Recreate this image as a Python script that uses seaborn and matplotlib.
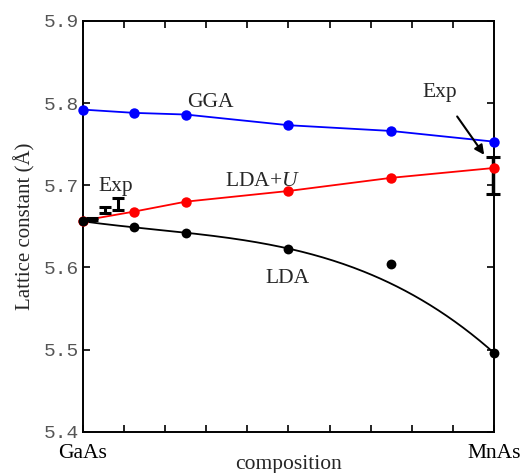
import numpy as np
import pandas as pd
import matplotlib
matplotlib.use('Agg')
import matplotlib.pyplot as plt
import seaborn as sns

# composition (Mn fraction) and lattice constants
comp = [0.0, 0.125, 0.25, 0.5, 0.75, 1.0]
gga = [5.792, 5.788, 5.786, 5.773, 5.766, 5.753]
ldau = [5.657, 5.668, 5.680, 5.693, 5.709, 5.721]
lda = [5.656, 5.649, 5.642, 5.623, 5.604, 5.496]
lda_fit_mask = [True, True, True, True, False, True]  # 0.75 point left out of the fit

# experimental data with error bars
exp_x = [0.022, 0.054, 0.085, 0.997]
exp_y = [5.659, 5.6695, 5.6775, 5.7115]
exp_err = [0.0015, 0.0035, 0.0075, 0.0225]

xtick_pos = [0.0, 0.1, 0.2, 0.3, 0.4, 0.5, 0.6, 0.7, 0.8, 0.9, 1.0]
xtick_lab = ['GaAs', '', '', '', '', '', '', '', '', '', 'MnAs']
ytick_pos = [5.4, 5.5, 5.6, 5.7, 5.8, 5.9]

sns.set_style('ticks')
plt.rcParams['font.family'] = ['Liberation Serif', 'DejaVu Serif']
plt.rcParams['mathtext.fontset'] = 'custom'
plt.rcParams['mathtext.rm'] = 'Liberation Serif'
plt.rcParams['mathtext.it'] = 'Liberation Serif:italic'

df = pd.DataFrame({'x': comp, 'GGA': gga, 'LDA+U': ldau, 'LDA': lda})

fig = plt.figure(figsize=(5.25, 4.73), dpi=100)
ax = fig.add_axes([0.158, 0.087, 0.783, 0.869])

# cubic fit through the LDA points
mask = np.array(lda_fit_mask)
coef = np.polyfit(np.array(comp)[mask], np.array(lda)[mask], 3)
xs = np.linspace(0, 1, 200)
ax.plot(xs, np.polyval(coef, xs), color='black', lw=1.3, zorder=2)

sns.lineplot(data=df, x='x', y='GGA', color='#0000ff', lw=1.3, marker='o',
             markersize=7.5, markeredgewidth=0, ax=ax, zorder=3)
sns.lineplot(data=df, x='x', y='LDA+U', color='#ff0000', lw=1.3, marker='o',
             markersize=7.5, markeredgewidth=0, ax=ax, zorder=3)
sns.scatterplot(data=df, x='x', y='LDA', color='black', s=50, linewidth=0,
                ax=ax, zorder=4)

ax.errorbar(exp_x[:3], exp_y[:3], yerr=exp_err[:3], fmt='none', ecolor='black',
            elinewidth=2.2, capsize=4, capthick=2.2, zorder=5)
ax.errorbar(exp_x[3:], exp_y[3:], yerr=exp_err[3:], fmt='none', ecolor='black',
            elinewidth=2.5, capsize=5, capthick=2.2, zorder=2)

for ln in ax.lines:
    ln.set_clip_on(False)
for coll in ax.collections:
    coll.set_clip_on(False)

fs = 15.5
ax.text(0.309, 5.801, 'GGA', fontsize=fs, ha='center', va='center')
ax.text(0.436, 5.705, 'LDA+$U$', fontsize=fs, ha='center', va='center')
ax.text(0.497, 5.586, 'LDA', fontsize=fs, ha='center', va='center')
ax.text(0.080, 5.699, 'Exp', fontsize=fs, ha='center', va='center')
ax.annotate('Exp', xy=(0.976, 5.737), xytext=(0.869, 5.813),
            fontsize=fs, ha='center', va='center',
            arrowprops=dict(arrowstyle='-|>', color='black', lw=1.5,
                            mutation_scale=14, shrinkA=10, shrinkB=0))

ax.set_xlim(0, 1)
ax.set_ylim(5.4, 5.9)
ax.set_xticks(xtick_pos)
ax.set_xticklabels(xtick_lab, fontsize=15.5)
ax.set_yticks(ytick_pos)
ax.set_yticklabels([f'{v:.1f}' for v in ytick_pos], family='Liberation Mono',
                   fontsize=14, color='#555555')
ax.tick_params(direction='in', length=5, width=1.2, top=True, right=True,
               colors='black')
ax.tick_params(axis='x', pad=9)
ax.tick_params(axis='y', pad=3, labelcolor='#555555')
for sp in ax.spines.values():
    sp.set_linewidth(1.4)
    sp.set_color('black')

ax.set_xlabel('composition', fontsize=15.5, labelpad=-6)
ax.set_ylabel('Lattice constant (Å)', fontsize=15, labelpad=6)

fig.savefig('out.png', dpi=100)
